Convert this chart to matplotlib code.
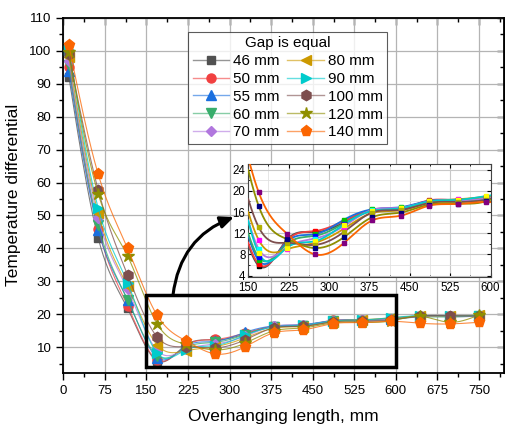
import numpy as np
import matplotlib
matplotlib.use("Agg")
import matplotlib.pyplot as plt
from matplotlib.patches import Rectangle
from matplotlib.lines import Line2D
from matplotlib.colors import to_rgba

plt.rcParams['font.family'] = ['Liberation Sans', 'DejaVu Sans']

# ---------------- data ----------------
lengths = [10, 63, 116, 169, 222, 274, 327, 380, 433, 486, 539, 591, 644, 697, 750]
gap_labels = ["46 mm", "50 mm", "55 mm", "60 mm", "70 mm",
              "80 mm", "90 mm", "100 mm", "120 mm", "140 mm"]

g46  = [92.1, 43.1, 21.8, 5.9, 10.8, 12.2, 14.0, 16.4, 16.8, 18.0, 18.3, 18.8, 19.3, 19.4, 19.4]
g50  = [95.0, 46.0, 22.6, 6.2, 10.6, 12.4, 14.3, 16.3, 16.6, 18.2, 18.2, 18.6, 19.4, 19.5, 19.6]
g55  = [93.8, 45.6, 24.5, 6.9, 10.4, 11.8, 14.5, 16.5, 16.9, 18.1, 18.3, 18.7, 19.6, 19.4, 19.7]
g60  = [95.6, 47.1, 24.4, 7.5, 10.0, 11.5, 13.8, 16.2, 16.5, 17.9, 18.0, 18.5, 19.2, 19.2, 19.5]
g70  = [96.9, 49.1, 27.6, 9.1, 9.4, 11.0, 13.3, 16.4, 16.8, 18.0, 18.2, 18.6, 19.3, 19.3, 19.4]
g80  = [98.0, 50.6, 28.5, 10.8, 9.0, 10.2, 12.8, 15.8, 16.3, 17.8, 18.4, 18.9, 19.5, 19.4, 19.8]
g90  = [100.2, 52.2, 29.6, 8.3, 9.3, 10.5, 13.6, 16.2, 16.7, 18.0, 18.3, 19.0, 19.6, 19.5, 19.6]
g100 = [99.0, 57.7, 31.9, 13.2, 10.2, 9.8, 12.2, 15.9, 16.4, 17.7, 17.9, 18.3, 19.5, 19.6, 19.5]
g120 = [99.5, 56.5, 37.7, 17.2, 10.9, 9.2, 11.2, 15.0, 15.9, 17.4, 17.6, 18.0, 19.4, 17.6, 19.8]
g140 = [101.7, 62.5, 40.0, 19.8, 11.9, 8.0, 10.1, 14.4, 15.3, 17.2, 17.5, 17.9, 17.3, 17.1, 17.6]
series = [g46, g50, g55, g60, g70, g80, g90, g100, g120, g140]

x_ticks = [0, 75, 150, 225, 300, 375, 450, 525, 600, 675, 750]
y_ticks = [10, 20, 30, 40, 50, 60, 70, 80, 90, 100, 110]
inset_x_ticks = [150, 225, 300, 375, 450, 525, 600]
inset_y_ticks = [4, 8, 12, 16, 20, 24]

colors = ['#515151', '#F14040', '#1A6FDF', '#37AD6B', '#B177DE',
          '#CC9900', '#00CBCC', '#7D4E4E', '#8E8E00', '#FB6501']
inset_mcolors = ['#000000', '#FF0000', '#00C000', '#0000FF', '#00FFFF',
                 '#FF00FF', '#FFFF00', '#B0B000', '#000080', '#800080']
markers = ['s', 'o', '^', 'v', 'D', '<', '>', 'h', '*', 'p']
msizes = [6, 6.5, 6.5, 6.5, 5.5, 6.5, 6.5, 7.5, 9, 8]


def natural_spline(x, y, xs):
    x = np.asarray(x, float); y = np.asarray(y, float)
    n = len(x)
    h = np.diff(x)
    A = np.zeros((n, n)); b = np.zeros(n)
    A[0, 0] = 1; A[-1, -1] = 1
    for i in range(1, n - 1):
        A[i, i - 1] = h[i - 1]
        A[i, i] = 2 * (h[i - 1] + h[i])
        A[i, i + 1] = h[i]
        b[i] = 6 * ((y[i + 1] - y[i]) / h[i] - (y[i] - y[i - 1]) / h[i - 1])
    M = np.linalg.solve(A, b)
    idx = np.clip(np.searchsorted(x, xs) - 1, 0, n - 2)
    x0 = x[idx]; x1 = x[idx + 1]; hh = x1 - x0
    t0 = x1 - xs; t1 = xs - x0
    return (M[idx] * t0 ** 3 / (6 * hh) + M[idx + 1] * t1 ** 3 / (6 * hh)
            + (y[idx] / hh - M[idx] * hh / 6) * t0
            + (y[idx + 1] / hh - M[idx + 1] * hh / 6) * t1)


W, H = 505, 428
fig = plt.figure(figsize=(W / 100, H / 100), dpi=100)
ax = fig.add_axes([63.3 / W, 1 - 372.7 / H, (504 - 63.3) / W, (372.7 - 17.7) / H])

xs = np.linspace(lengths[0], lengths[-1], 800)
for i, s in enumerate(series):
    ys = natural_spline(lengths, s, xs)
    ax.plot(xs, ys, color=colors[i], lw=0.8, alpha=0.75, zorder=3 + i)
    ax.plot(lengths, s, ls='none', marker=markers[i], ms=msizes[i],
            color=colors[i], mec=colors[i], zorder=3 + i)

ax.set_xlim(0, 795)
ax.set_ylim(2.3, 110)
ax.set_xticks(x_ticks)
ax.set_yticks(y_ticks)
ax.set_xticks(np.arange(37.5, 795, 75), minor=True)
ax.set_yticks(np.arange(5, 110, 10), minor=True)
ax.grid(True, which='major', color='#b4b4b4', lw=0.9, zorder=0)
ax.set_axisbelow(True)
ax.tick_params(which='both', direction='out', labelsize=9.5, width=1, colors='black')
ax.tick_params(which='major', length=5)
ax.tick_params(which='minor', length=3)
for sp in ax.spines.values():
    sp.set_linewidth(1.3)

secx = ax.secondary_xaxis('top')
secx.set_xticks(x_ticks)
secx.set_xticks(np.arange(37.5, 795, 75), minor=True)
secx.tick_params(which='both', direction='in', labeltop=False, width=1)
secx.tick_params(which='major', length=5)
secx.tick_params(which='minor', length=3)
secy = ax.secondary_yaxis('right')
secy.set_yticks(y_ticks)
secy.set_yticks(np.arange(5, 110, 10), minor=True)
secy.tick_params(which='both', direction='in', labelright=False, width=1)
secy.tick_params(which='major', length=5)
secy.tick_params(which='minor', length=3)

ax.set_xlabel("Overhanging length, mm", fontsize=12.5, labelpad=9)
ax.set_ylabel("Temperature differential", fontsize=12.5, labelpad=6)

# zoom rectangle
ax.add_patch(Rectangle((150, 4), 450, 22, fill=False, ec='black', lw=2.5, zorder=20))

# legend
handles = [Line2D([0], [0], color=to_rgba(colors[i], 0.6), lw=1, marker=markers[i],
                  ms=msizes[i], mfc=colors[i], mec=colors[i]) for i in range(10)]
leg = fig.legend(handles, gap_labels, ncol=2, title="Gap is equal",
                 loc='upper left', bbox_to_anchor=(188 / W, 1 - 31.7 / H),
                 fontsize=11, title_fontsize=11, frameon=True, fancybox=False,
                 shadow=False, handlelength=2.4, handletextpad=0.25,
                 columnspacing=0.5, labelspacing=0.25, borderpad=0.3,
                 borderaxespad=0)
leg.get_frame().set_edgecolor('#333333')
leg.get_frame().set_linewidth(0.8)
leg.set_zorder(30)

# inset
axi = fig.add_axes([248.3 / W, 1 - 276.7 / H, (490.5 - 248.3) / W, (276.7 - 164.3) / H])
axi.set_zorder(25)
xi = np.linspace(150, 600, 600)
for i, s in enumerate(series):
    ys = natural_spline(lengths, s, xi)
    axi.plot(xi, ys, color=colors[i], lw=1.3, zorder=3 + i)
for i, s in enumerate(series):
    xa = [v for v in lengths if 150 <= v <= 600]
    ya = [s[k] for k, v in enumerate(lengths) if 150 <= v <= 600]
    axi.plot(xa, ya, ls='none', marker='s', ms=2.6, color=inset_mcolors[i],
             mec=inset_mcolors[i], zorder=20 + i)
axi.set_xlim(150, 600)
axi.set_ylim(3.8, 25)
axi.set_xticks(inset_x_ticks)
axi.set_yticks(inset_y_ticks)
axi.set_xticks(np.arange(187.5, 600, 75), minor=True)
axi.set_yticks(np.arange(6, 25, 4), minor=True)
axi.grid(True, which='major', color='#c8c8c8', lw=0.8)
axi.grid(True, which='minor', color='#e2e2e2', lw=0.6)
axi.set_axisbelow(True)
axi.tick_params(which='both', direction='in', labelsize=8.3, top=True, right=True)
axi.tick_params(axis='x', pad=4)
axi.tick_params(axis='y', pad=2)
axi.tick_params(which='major', length=3)
axi.tick_params(which='minor', length=1.5)
for lbl in axi.get_yticklabels():
    lbl.set_verticalalignment('center_baseline')
for sp in axi.spines.values():
    sp.set_linewidth(0.8)
    sp.set_color('#444444')

# curved arrow
ax.annotate("", xy=(234 / W, 1 - 217 / H), xycoords='figure fraction',
            xytext=(173 / W, 1 - 295 / H), textcoords='figure fraction',
            arrowprops=dict(arrowstyle='-|>,head_length=0.8,head_width=0.35',
                            connectionstyle='arc3,rad=-0.3', color='black',
                            lw=2.2, shrinkA=0, shrinkB=0),
            zorder=22, annotation_clip=False)

fig.savefig("out.png", dpi=100)
